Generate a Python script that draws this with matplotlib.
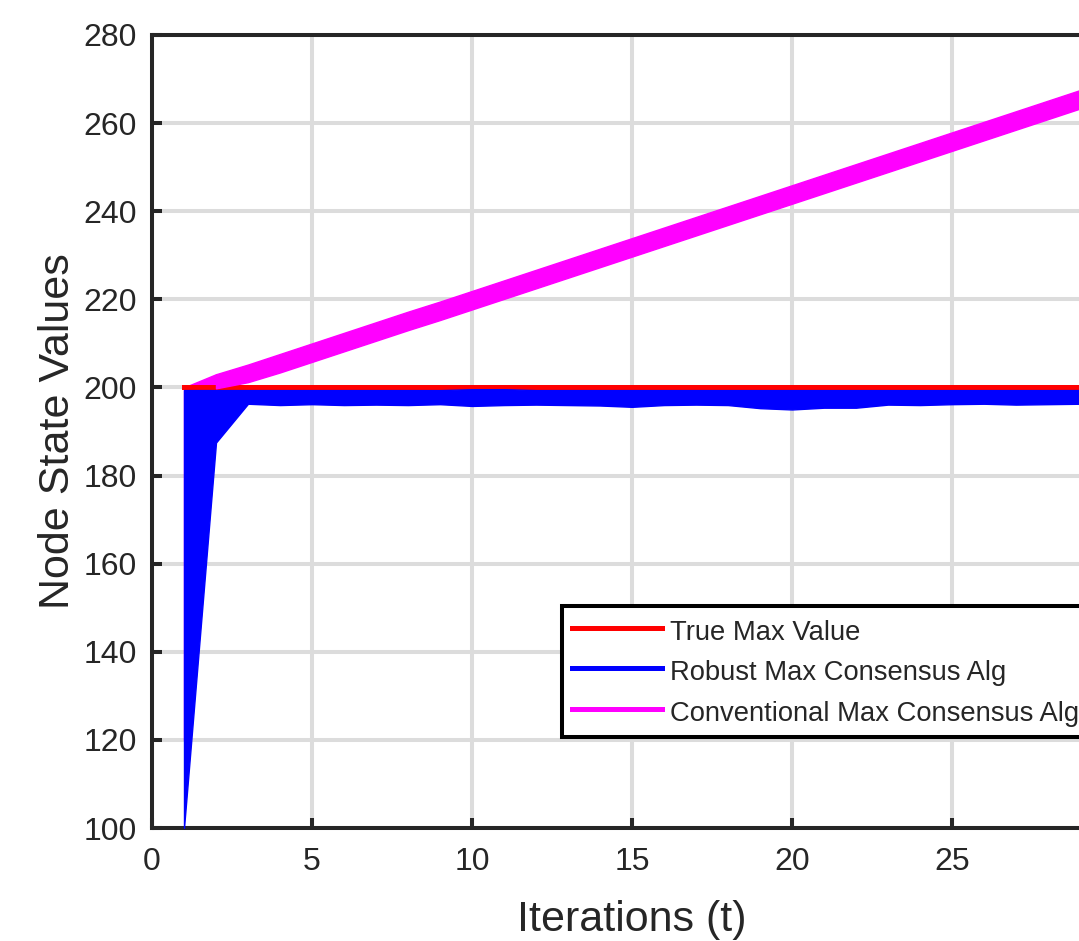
import matplotlib
matplotlib.use('Agg')
import matplotlib.pyplot as plt
from matplotlib.lines import Line2D

plt.rcParams['font.family'] = ['Liberation Sans', 'DejaVu Sans']

# iterations
t = list(range(1, 31))

# true maximum of the initial node states
true_max = [200.0] * 30

# robust max consensus: envelope of all node trajectories
robust_upper = [199.4, 199.4, 199.4, 199.4, 199.4, 199.4, 199.4, 199.4, 199.4, 199.6,
                199.6, 199.4, 199.4, 199.4, 199.4, 199.4, 199.4, 199.4, 199.4, 199.4,
                199.4, 199.4, 199.4, 199.4, 199.4, 199.4, 199.4, 199.4, 199.4, 199.4]
robust_lower = [100.0, 187.5, 196.3, 196.0, 196.2, 196.0, 196.1, 196.0, 196.2, 195.8,
                196.0, 196.1, 196.0, 195.9, 195.6, 196.0, 196.1, 196.0, 195.3, 195.0,
                195.4, 195.4, 196.1, 196.0, 196.2, 196.3, 196.1, 196.2, 196.3, 196.3]

# conventional max consensus: envelope of all node trajectories
conv_upper = [200.0, 203.0, 205.2, 207.6, 210.0, 212.4, 214.8, 217.2, 219.5, 221.9,
              224.3, 226.7, 229.1, 231.5, 233.9, 236.3, 238.7, 241.1, 243.5, 245.9,
              248.3, 250.7, 253.1, 255.5, 257.9, 260.3, 262.7, 265.1, 267.5, 269.9]
conv_lower = [120.0, 199.8, 201.2, 203.4, 205.8, 208.2, 210.6, 213.0, 215.3, 217.7,
              220.1, 222.5, 224.9, 227.3, 229.7, 232.1, 234.5, 236.9, 239.3, 241.7,
              244.1, 246.5, 248.9, 251.3, 253.7, 256.1, 258.5, 260.9, 263.3, 265.7]

labels = ['True Max Value', 'Robust Max Consensus Alg', 'Conventional Max Consensus Alg']

W, H = 1079, 941
fig = plt.figure(figsize=(W / 100, H / 100), dpi=100)
ax = fig.add_axes([152 / W, (941 - 828) / H, 960 / W, (828 - 35) / H])

txt = '#262626'
red, blue, mag = '#ff0000', '#0000ff', '#ff00ff'

# first step of the conventional nodes sits under the blue band
ax.fill_between(t[:2], conv_lower[:2], conv_upper[:2], color=mag, lw=1, zorder=2)
ax.plot(t, true_max, color=red, lw=3.6, zorder=3)
ax.fill_between(t, robust_lower, robust_upper, color=blue, lw=1, zorder=4)
ax.fill_between(t[1:], conv_lower[1:], conv_upper[1:], color=mag, lw=1, zorder=5)

ax.set_xlim(0, 30)
ax.set_ylim(100, 280)
ax.set_xticks(range(0, 30, 5))
ax.set_yticks(range(100, 281, 20))

ax.grid(True, color='#dcdcdc', lw=2.9)
ax.set_axisbelow(True)
for s in ax.spines.values():
    s.set_linewidth(2.9)
    s.set_color(txt)
ax.tick_params(direction='in', length=7, width=2.9, color=txt,
               labelsize=23, labelcolor=txt, pad=11,
               top=False, right=False)
ax.tick_params(axis='x', pad=14)

ax.set_xlabel('Iterations (t)', fontsize=31, color=txt, labelpad=16)
ax.set_ylabel('Node State Values', fontsize=31, color=txt, labelpad=4)

handles = [Line2D([], [], color=c, lw=3.6) for c in (red, blue, mag)]
leg = ax.legend(handles, labels, loc='upper left',
                bbox_to_anchor=(562 / W, 1 - 606 / H), bbox_transform=fig.transFigure,
                borderaxespad=0, fontsize=19.7, frameon=True, fancybox=False,
                framealpha=1, edgecolor='black', handlelength=3.3, handleheight=1.3,
                handletextpad=0.3, labelspacing=0.38, borderpad=0.36)
leg.get_frame().set_linewidth(2.9)
for tx in leg.get_texts():
    tx.set_color(txt)

fig.savefig('out.png', dpi=100)
